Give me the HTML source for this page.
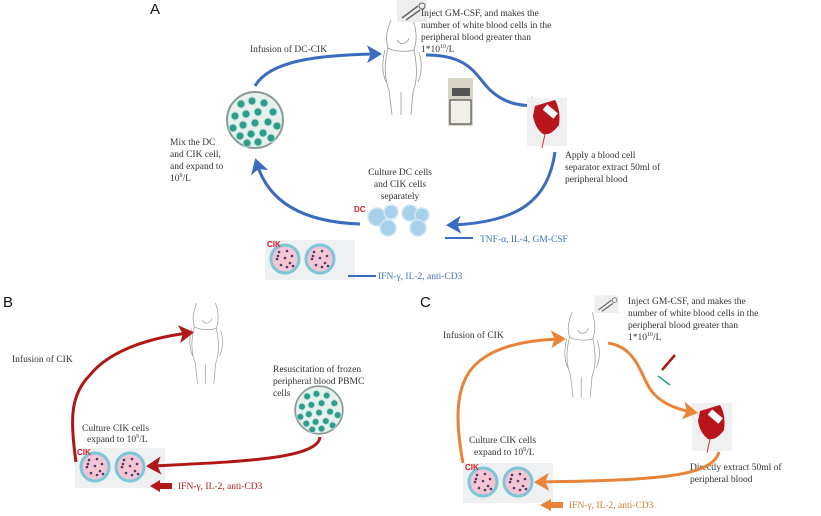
<!DOCTYPE html>
<html><head><meta charset="utf-8"><style>
body{margin:0;background:#fff}
svg{display:block}
text{font-family:"Liberation Serif",serif;font-size:9.5px;fill:#333}
.lab{font-family:"Liberation Sans",sans-serif;font-size:15px;fill:#111}
.bl{fill:#3a73b8}
</style></head><body>
<svg width="821" height="516" viewBox="0 0 821 516" xmlns="http://www.w3.org/2000/svg">
<defs>
<marker id="mb" markerWidth="6" markerHeight="6" refX="3" refY="3" orient="auto" markerUnits="strokeWidth"><path d="M0,0 L5,3 L0,6 L1.2,3z" fill="#3b6cc0"/></marker>
<marker id="mr" markerWidth="6" markerHeight="6" refX="3" refY="3" orient="auto" markerUnits="strokeWidth"><path d="M0,0 L5,3 L0,6 L1.2,3z" fill="#b01818"/></marker>
<marker id="mo" markerWidth="6" markerHeight="6" refX="3" refY="3" orient="auto" markerUnits="strokeWidth"><path d="M0,0 L5,3 L0,6 L1.2,3z" fill="#e8843a"/></marker>
<g id="woman" fill="none" stroke="#999" stroke-width="0.8">
<path d="M8,0 C4,10 2,18 5,28 C2,40 0,55 6,70 L9,95 M30,0 C34,12 34,20 31,30 C34,45 35,58 30,72 L28,95 M18,72 L18,95 M5,28 C12,32 24,32 31,30 M14,20 C18,26 24,24 26,18 M2,30 C-2,45 0,55 3,62 M36,32 C40,45 38,55 35,62"/>
</g>
<g id="dish">
<circle r="28" fill="#e9f1ee" stroke="#8a9a95" stroke-width="2"/>
<g fill="#2c9d8a" stroke="#bfe3dc" stroke-width="1">
<circle cx="-14" cy="-16" r="4"/><circle cx="-3" cy="-19" r="4"/><circle cx="9" cy="-17" r="4"/><circle cx="18" cy="-8" r="4"/><circle cx="-20" cy="-4" r="4"/><circle cx="-9" cy="-6" r="4"/><circle cx="3" cy="-8" r="4"/><circle cx="13" cy="2" r="4"/><circle cx="22" cy="6" r="4"/><circle cx="-22" cy="8" r="4"/><circle cx="-12" cy="5" r="4"/><circle cx="0" cy="3" r="4"/><circle cx="-15" cy="16" r="4"/><circle cx="-4" cy="14" r="4"/><circle cx="8" cy="13" r="4"/><circle cx="16" cy="18" r="4"/><circle cx="3" cy="22" r="4"/><circle cx="-8" cy="23" r="4"/>
</g></g>
<g id="cik">
<circle r="14" fill="#f4c6d3" stroke="#7cc6d8" stroke-width="3"/>
<g fill="#4a3a6a"><circle cx="-6" cy="-7" r="1.3"/><circle cx="2" cy="-8" r="1.3"/><circle cx="7" cy="-3" r="1.3"/><circle cx="-8" cy="0" r="1.3"/><circle cx="0" cy="-1" r="1.3"/><circle cx="5" cy="4" r="1.3"/><circle cx="-4" cy="6" r="1.3"/><circle cx="2" cy="8" r="1.3"/><circle cx="-7" cy="-3" r="1.3"/><circle cx="8" cy="7" r="1.3"/></g>
</g>
<g id="cikbox">
<rect x="-20" y="-19" width="90" height="40" fill="#eef0f1"/>
<use href="#cik"/><use href="#cik" x="35"/>
<text x="-18" y="-12" style="font-family:'Liberation Sans',sans-serif;font-weight:bold;font-size:8px;fill:#d3202a">CIK</text>
</g>
<g id="bag">
<rect x="-18" y="-22" width="40" height="48" fill="#f0f0f0"/>
<path d="M-10,-14 L10,-20 Q16,-10 14,5 Q6,16 -2,14 Q-10,8 -12,-4z" fill="#b8141c"/>
<rect x="-2" y="-12" width="14" height="7" fill="#fff" transform="rotate(40 5 -8)"/>
<path d="M0,14 L-3,28" stroke="#c33" stroke-width="1"/>
</g>
<g id="syr"><rect x="-3" y="-12" width="30" height="22" fill="#eee"/><path d="M2,6 L18,-6 M6,8 L20,-2" stroke="#666" stroke-width="1.5" fill="none"/><circle cx="22" cy="-6" r="3" fill="none" stroke="#666"/></g>
</defs>

<!-- Panel A -->
<text class="lab" x="150" y="14">A</text>
<use href="#woman" x="383" y="20"/>
<use href="#syr" x="400" y="12"/>
<text x="421" y="16">Inject GM-CSF, and makes the</text>
<text x="421" y="28">number of white blood cells in the</text>
<text x="421" y="40">peripheral blood greater than</text>
<text x="421" y="52">1*10<tspan font-size="6" dy="-4">10</tspan><tspan dy="4">/L</tspan></text>
<text x="250" y="52">Infusion of DC-CIK</text>
<path d="M255,86 C270,60 320,55 376,54" fill="none" stroke="#3b6cc0" stroke-width="3" marker-end="url(#mb)"/>
<path d="M426,55 C470,55 475,75 490,90 C505,104 520,106 540,106" fill="none" stroke="#3b6cc0" stroke-width="3" marker-end="url(#mb)"/>
<rect x="448" y="78" width="25" height="48" fill="#d8d4c8"/><rect x="450" y="100" width="21" height="24" fill="#f0efe8" stroke="#333" stroke-width="1"/><rect x="452" y="88" width="18" height="8" fill="#555"/>
<use href="#bag" x="545" y="120"/>
<text x="565" y="158">Apply a blood cell</text>
<text x="565" y="170">separator extract 50ml of</text>
<text x="565" y="182">peripheral blood</text>
<path d="M555,152 C548,200 520,222 452,225" fill="none" stroke="#3b6cc0" stroke-width="3" marker-end="url(#mb)"/>
<use href="#dish" x="255" y="120"/>
<text x="170" y="145">Mix the DC</text>
<text x="170" y="157">and CIK cell,</text>
<text x="170" y="169">and expand to</text>
<text x="170" y="181">10<tspan font-size="6" dy="-4">9</tspan><tspan dy="4">/L</tspan></text>
<path d="M360,224 C300,222 268,200 257,164" fill="none" stroke="#3b6cc0" stroke-width="3" marker-end="url(#mb)"/>
<text x="400" y="175" text-anchor="middle">Culture DC cells</text>
<text x="400" y="187" text-anchor="middle">and CIK cells</text>
<text x="400" y="199" text-anchor="middle">separately</text>
<text x="354" y="212" style="font-family:'Liberation Sans',sans-serif;font-weight:bold;font-size:8px;fill:#d3202a">DC</text>
<g fill="#a8d0ea" stroke="#cfe6f4" stroke-width="1.5"><circle cx="377" cy="217" r="9"/><circle cx="391" cy="212" r="7"/><circle cx="388" cy="228" r="8"/><circle cx="410" cy="213" r="8"/><circle cx="422" cy="215" r="7"/><circle cx="418" cy="228" r="8"/></g>
<path d="M445,238 L473,238" stroke="#3b6cc0" stroke-width="2"/>
<text x="480" y="242" class="bl">TNF-α, IL-4, GM-CSF</text>
<use href="#cikbox" x="285" y="259"/>
<path d="M348,276 L376,276" stroke="#3b6cc0" stroke-width="2"/>
<text x="378" y="279" class="bl">IFN-γ, IL-2, anti-CD3</text>

<!-- Panel B -->
<text class="lab" x="3" y="307">B</text>
<use href="#woman" transform="translate(190 303) scale(0.85)"/>
<text x="12" y="362">Infusion of CIK</text>
<text x="273" y="372">Resuscitation of frozen</text>
<text x="273" y="384">peripheral blood PBMC</text>
<text x="273" y="396">cells</text>
<use href="#dish" transform="translate(319 410) scale(0.85)"/>
<text x="82" y="431">Culture CIK cells</text>
<text x="87" y="442">expand to 10<tspan font-size="6" dy="-4">9</tspan><tspan dy="4">/L</tspan></text>
<use href="#cikbox" x="95" y="467"/>
<path d="M76,462 C70,420 70,395 90,375 C110,350 150,338 188,333" fill="none" stroke="#b01818" stroke-width="3" marker-end="url(#mr)"/>
<path d="M320,437 C318,460 230,462 152,466" fill="none" stroke="#b01818" stroke-width="3" marker-end="url(#mr)"/>
<path d="M172,486 L160,486" stroke="#b01818" stroke-width="6"/><path d="M150,486 L160,480 L160,492z" fill="#b01818"/>
<text x="178" y="489" style="fill:#a82020">IFN-γ, IL-2, anti-CD3</text>

<!-- Panel C -->
<text class="lab" x="420" y="307">C</text>
<use href="#woman" transform="translate(565 312) scale(0.9)"/>
<use href="#syr" transform="translate(597 305) scale(0.8)"/>
<text x="628" y="304">Inject GM-CSF, and makes the</text>
<text x="628" y="316">number of white blood cells in the</text>
<text x="628" y="328">peripheral blood greater than</text>
<text x="628" y="340">1*10<tspan font-size="6" dy="-4">10</tspan><tspan dy="4">/L</tspan></text>
<text x="443" y="338">Infusion of CIK</text>
<path d="M662,370 L675,355" stroke="#b01818" stroke-width="2.5"/><path d="M658,376 L670,385" stroke="#2a9c80" stroke-width="1.5"/>
<use href="#bag" x="710" y="425"/>
<text x="690" y="470">Directly extract 50ml of</text>
<text x="690" y="482">peripheral blood</text>
<text x="469" y="443">Culture CIK cells</text>
<text x="474" y="455">expand to 10<tspan font-size="6" dy="-4">9</tspan><tspan dy="4">/L</tspan></text>
<use href="#cikbox" x="483" y="482"/>
<path d="M463,463 C455,420 455,385 475,365 C495,345 530,340 560,339" fill="none" stroke="#e8843a" stroke-width="3" marker-end="url(#mo)"/>
<path d="M608,343 C640,348 640,380 655,395 C665,405 680,410 692,412" fill="none" stroke="#e8843a" stroke-width="3" marker-end="url(#mo)"/>
<path d="M719,452 C712,478 650,480 540,482" fill="none" stroke="#e8843a" stroke-width="3" marker-end="url(#mo)"/>
<path d="M563,505 L551,505" stroke="#e8843a" stroke-width="6"/><path d="M540,505 L551,499 L551,511z" fill="#e8843a"/>
<text x="569" y="508" style="fill:#d07a3a">IFN-γ, IL-2, anti-CD3</text>
</svg>
</body></html>
